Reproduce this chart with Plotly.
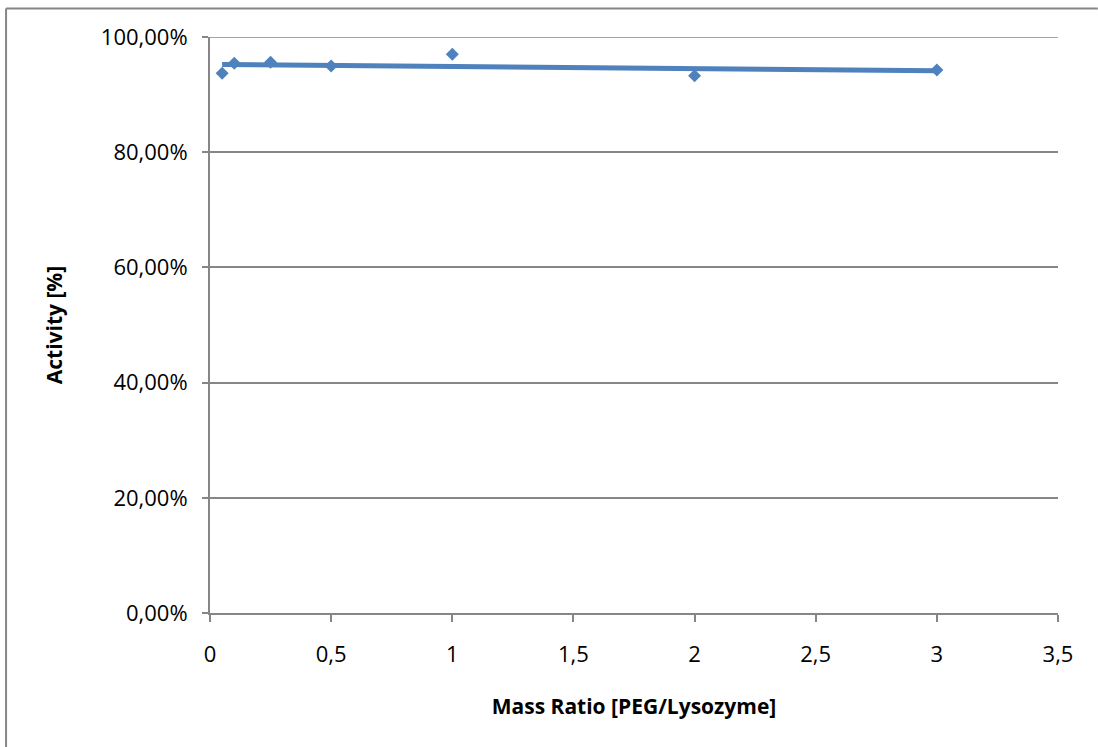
import numpy as np
import plotly.graph_objects as go

# Mass ratio PEG/lysozyme and measured residual activity (fraction)
mass_ratio = [0.05, 0.1, 0.25, 0.5, 1.0, 2.0, 3.0]
activity = [0.9370, 0.9543, 0.9561, 0.9497, 0.9700, 0.9328, 0.9427]

x_ticks = [0, 0.5, 1, 1.5, 2, 2.5, 3, 3.5]
y_ticks = [0, 0.2, 0.4, 0.6, 0.8, 1.0]

blue = "#4F81BD"
axis_gray = "#868686"
font_family = "Open Sans, Liberation Sans, sans-serif"

# Linear trend line through the measurements
slope, intercept = np.polyfit(mass_ratio, activity, 1)
trend_x = [min(mass_ratio), max(mass_ratio)]
trend_y = [slope * v + intercept for v in trend_x]

fig = go.Figure()
fig.add_trace(go.Scatter(
    x=trend_x, y=trend_y, mode="lines",
    line=dict(color=blue, width=5),
    showlegend=False, hoverinfo="skip",
))
fig.add_trace(go.Scatter(
    x=mass_ratio, y=activity, mode="markers",
    marker=dict(symbol="diamond", size=10, color=blue),
    showlegend=False, hoverinfo="x+y",
))

# Outer chart frame (left and top edges)
frame = dict(color=axis_gray, width=2)
fig.add_shape(type="line", xref="paper", yref="paper",
              x0=-0.2405, x1=-0.2405, y0=-0.3, y1=1.0495, line=frame)
fig.add_shape(type="line", xref="paper", yref="paper",
              x0=-0.2405, x1=1.047, y0=1.0495, y1=1.0495, line=frame)

# Top gridline at 100 % (sits on the edge of the plotting area)
fig.add_shape(type="line", xref="paper", yref="y",
              x0=0, x1=1, y0=y_ticks[-1], y1=y_ticks[-1],
              line=dict(color=axis_gray, width=1.5), layer="below")

fig.update_layout(
    width=1098, height=747,
    margin=dict(l=210, r=40, t=37, b=134),
    paper_bgcolor="white", plot_bgcolor="white",
    separators=", ",
    font=dict(family=font_family, size=22, color="#000000"),
)
fig.update_xaxes(
    range=[0, 3.5], tickvals=x_ticks,
    showgrid=False, zeroline=False,
    showline=True, linecolor=axis_gray, linewidth=2,
    ticks="outside", ticklen=7, tickcolor=axis_gray, tickwidth=2,
    ticklabelstandoff=14,
    tickfont=dict(size=22),
    title=dict(text="<b>Mass Ratio [PEG/Lysozyme]</b>", font=dict(size=21), standoff=32),
)
fig.update_yaxes(
    range=[0, 1.0], tickvals=y_ticks, tickformat=".2%",
    showgrid=True, gridcolor=axis_gray, gridwidth=1.5,
    zeroline=False,
    showline=True, linecolor=axis_gray, linewidth=2,
    ticks="outside", ticklen=6, tickcolor=axis_gray, tickwidth=2,
    ticklabelstandoff=10,
    tickfont=dict(size=22),
    title=dict(text="<b>Activity [%]</b>", font=dict(size=21), standoff=32),
)

fig.write_html("out.html")
